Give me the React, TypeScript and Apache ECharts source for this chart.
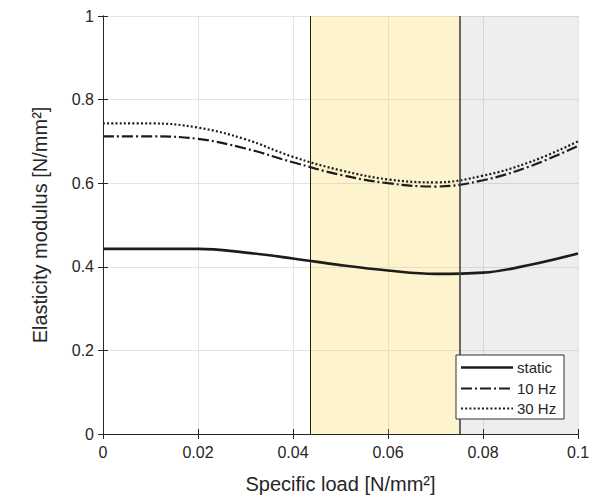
import React, { useEffect, useRef } from "react";
import * as echarts from "echarts";

const loads = [0, 0.01, 0.02, 0.03, 0.04, 0.05, 0.06, 0.07, 0.08, 0.09, 0.1];
const staticVals = [0.443, 0.443, 0.443, 0.434, 0.42, 0.404, 0.391, 0.383, 0.386, 0.405, 0.432];
const hz10Vals = [0.712, 0.712, 0.706, 0.683, 0.65, 0.62, 0.6, 0.592, 0.607, 0.641, 0.689];
const hz30Vals = [0.743, 0.743, 0.733, 0.705, 0.663, 0.631, 0.609, 0.602, 0.618, 0.651, 0.7];
const seriesNames = ["static", "10 Hz", "30 Hz"];
const yellowRange = [0.0436, 0.0752];
const grayRange = [0.0752, 0.1];

const FONT = "Liberation Sans, Arial, Helvetica, sans-serif";
const TXT = "#262626";
const LINE = "#1c1c1c";
const dashStyles: (number[] | null)[] = [null, [11, 3, 2, 3], [2, 2.2]];
const widths = [2.6, 2.2, 2.2];

export default function App() {
  const ref = useRef<HTMLDivElement>(null);
  useEffect(() => {
    if (!ref.current) return;
    const chart = echarts.init(ref.current, undefined, { renderer: "svg" });
    const pairs = (vals: number[]) => loads.map((x, i) => [x, vals[i]]);
    const lineBase = { type: "line", smooth: 0.4, symbol: "none", showSymbol: false, z: 2 };
    const fmt = (v: number) => String(Number(v.toFixed(3)));
    const axisCommon = {
      type: "value",
      axisLine: { show: true, lineStyle: { color: TXT, width: 1 } },
      axisTick: { show: true, inside: true, length: 5, lineStyle: { color: TXT } },
    };
    const legendBox = { x: 448, y: 347, w: 108, h: 64 };
    const rowY = [359.5, 380.5, 400.5];
    const legendEls: any[] = [
      {
        type: "rect",
        shape: { x: legendBox.x, y: legendBox.y, width: legendBox.w, height: legendBox.h },
        style: { fill: "#ffffff", stroke: "#333333", lineWidth: 1 },
        z: 100,
      },
    ];
    seriesNames.forEach((name, i) => {
      legendEls.push({
        type: "line",
        shape: { x1: 453, y1: rowY[i], x2: 505, y2: rowY[i] },
        style: { stroke: LINE, lineWidth: widths[i], lineDash: dashStyles[i] || undefined },
        z: 101,
      });
      legendEls.push({
        type: "text",
        x: 509,
        y: rowY[i],
        style: { text: name, fontSize: 15, fontFamily: FONT, fill: TXT, verticalAlign: "middle", align: "left" },
        z: 101,
      });
    });
    chart.setOption({
      animation: false,
      backgroundColor: "#ffffff",
      textStyle: { fontFamily: FONT },
      grid: { left: 95, right: 24, top: 8, bottom: 66, containLabel: false, outerBoundsMode: "none" },
      xAxis: [
        {
          ...axisCommon,
          min: 0,
          max: 0.1,
          interval: 0.02,
          name: "Specific load [N/mm²]",
          nameLocation: "middle",
          nameGap: 40,
          nameTextStyle: { fontSize: 20, color: TXT, fontFamily: FONT },
          axisLabel: { fontSize: 16, color: TXT, margin: 10, fontFamily: FONT, formatter: fmt },
          splitLine: { show: true, lineStyle: { color: "#e3e3e3", width: 1 } },
        },
        {
          ...axisCommon,
          position: "top",
          min: 0,
          max: 0.1,
          interval: 0.02,
          axisLabel: { show: false },
          splitLine: { show: false },
        },
      ],
      yAxis: [
        {
          ...axisCommon,
          min: 0,
          max: 1,
          interval: 0.2,
          name: "Elasticity modulus [N/mm²]",
          nameLocation: "middle",
          nameGap: 53,
          nameTextStyle: { fontSize: 20, color: TXT, fontFamily: FONT },
          axisLabel: { fontSize: 16, color: TXT, margin: 9, fontFamily: FONT, formatter: fmt },
          splitLine: { show: true, lineStyle: { color: "#e3e3e3", width: 1 } },
        },
        {
          ...axisCommon,
          position: "right",
          min: 0,
          max: 1,
          interval: 0.2,
          axisLabel: { show: false },
          splitLine: { show: false },
        },
      ],
      graphic: legendEls,
      series: [
        {
          ...lineBase,
          name: seriesNames[0],
          data: pairs(staticVals),
          lineStyle: { color: LINE, width: widths[0], type: "solid" },
          itemStyle: { color: LINE },
          markLine: {
            silent: true,
            symbol: "none",
            precision: 5,
            label: { show: false },
            data: [
              { xAxis: yellowRange[0], lineStyle: { color: "#222222", width: 1, type: "solid" } },
              { xAxis: grayRange[0], lineStyle: { color: "#444444", width: 1.6, type: "solid" } },
            ],
          },
        },
        {
          ...lineBase,
          name: seriesNames[1],
          data: pairs(hz10Vals),
          lineStyle: { color: LINE, width: widths[1], type: dashStyles[1] },
          itemStyle: { color: LINE },
        },
        {
          ...lineBase,
          name: seriesNames[2],
          data: pairs(hz30Vals),
          lineStyle: { color: LINE, width: widths[2], type: dashStyles[2] },
          itemStyle: { color: LINE },
        },
        {
          type: "line",
          name: "regions",
          data: [],
          z: 5,
          silent: true,
          markArea: {
            silent: true,
            data: [
              [
                { xAxis: yellowRange[0], yAxis: 0, itemStyle: { color: "rgba(248,208,50,0.25)" } },
                { xAxis: yellowRange[1], yAxis: 1 },
              ],
              [
                { xAxis: grayRange[0], yAxis: 0, itemStyle: { color: "rgba(142,142,142,0.15)" } },
                { xAxis: grayRange[1], yAxis: 1 },
              ],
            ],
          },
        },
      ],
    });
    return () => chart.dispose();
  }, []);
  return <div ref={ref} style={{ position: "absolute", left: 8, top: 8, width: 594, height: 492 }} />;
}
